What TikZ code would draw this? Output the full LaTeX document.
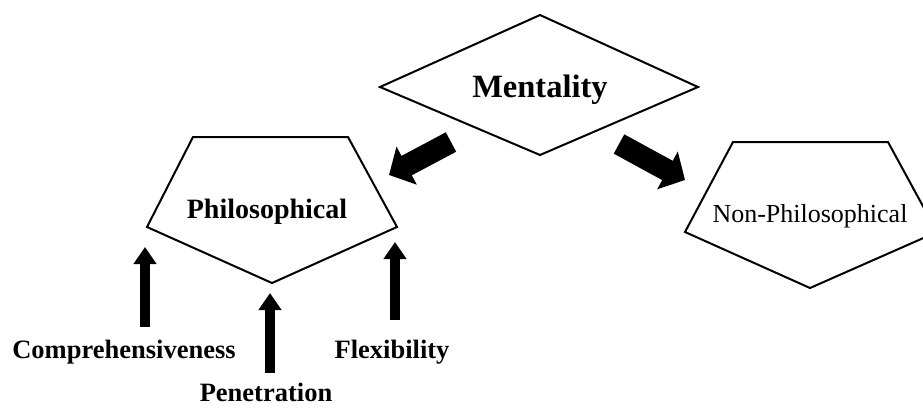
\documentclass[tikz,border=0pt]{standalone}
\usepackage{fontspec}
\setmainfont{Liberation Serif}
\usetikzlibrary{arrows.meta}

\begin{document}
\begin{tikzpicture}[x=1pt, y=-1pt,
  pent/.style = {draw, line width=2pt, line join=miter},
  bigarrow/.style = {line width=22pt, -{Triangle[length=20pt,width=42pt]}},
  uparrow/.style = {line width=10pt, -{Triangle[length=17pt,width=22pt]}},
  lbl/.style = {anchor=base, inner sep=0pt, font=\fontsize{26.5}{28}\selectfont\bfseries}]
\clip (0,0) rectangle (923,407);
\useasboundingbox (0,0) rectangle (923,407);
% mentality
\draw [pent] (540,15) -- (698,87) -- (540,155) -- (380,87) -- cycle;
\node [anchor=base, inner sep=0pt, font=\fontsize{32.5}{34}\selectfont\bfseries] (ment) at (540,97) {Mentality};
% philosophical
\draw [pent] (193,137) -- (348,137) -- (397,227) -- (272,283) -- (147,227) -- cycle;
\node [anchor=base, inner sep=0pt, font=\fontsize{28}{30}\selectfont\bfseries] (phil) at (267,218) {Philosophical};
% non-philosophical
\draw [pent] (733,142) -- (888,142) -- (937,232) -- (810,288) -- (685,232) -- cycle;
\node [anchor=base, inner sep=0pt, font=\fontsize{26}{28}\selectfont] (nonphil) at (810,222) {Non-Philosophical};
% big arrows
\coordinate (ment-sw) at (451,142);
\coordinate (phil-ne) at (389,175);
\coordinate (ment-se) at (619,144);
\coordinate (nonphil-nw) at (685,180);
\draw [bigarrow] (ment-sw) -- (phil-ne);
\draw [bigarrow] (ment-se) -- (nonphil-nw);
% qualities
\node [lbl] (comp) at (124,358) {Comprehensiveness};
\node [lbl] (pen) at (266,401) {Penetration};
\node [lbl] (flex) at (392,358) {Flexibility};
\coordinate (comp-top) at (145,327);
\coordinate (pen-top) at (270,373);
\coordinate (flex-top) at (395,320);
\coordinate (phil-w) at (145,247);
\coordinate (phil-s) at (270,293);
\coordinate (phil-e) at (395,242);
\draw [uparrow] (comp-top) -- (phil-w);
\draw [uparrow] (pen-top) -- (phil-s);
\draw [uparrow] (flex-top) -- (phil-e);
\end{tikzpicture}
\end{document}
